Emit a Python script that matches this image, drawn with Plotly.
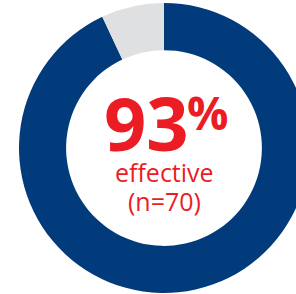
import plotly.graph_objects as go

labels = ["Effective", "Not effective"]
values = [93, 7]
colors = ["#023b7b", "#dfe0e2"]
big_label = "93"
pct_label = "%"
sub_label = "effective"
n_label = "(n=70)"

W, H = 309, 294
L, R, T, B = 19, 0, 3, 1
PW, PH = W - L - R, H - T - B


def px(x):
    return (x - L) / PW


def py(y):
    return 1 - (y - T) / PH


fig = go.Figure(
    go.Pie(
        labels=labels,
        values=values,
        hole=0.675,
        sort=False,
        direction="clockwise",
        rotation=0,
        marker=dict(colors=colors, line=dict(width=0)),
        textinfo="none",
        hoverinfo="label+value",
        showlegend=False,
    )
)

red = "#ec1c24"
fig.add_annotation(x=px(146), y=py(122), xref="paper", yref="paper", text=f"<b>{big_label}</b>",
                   showarrow=False, xanchor="center", yanchor="middle",
                   font=dict(family="Open Sans", size=74, color=red))
fig.add_annotation(x=px(207.5), y=py(112.5), xref="paper", yref="paper", text=f"<b>{pct_label}</b>",
                   showarrow=False, xanchor="center", yanchor="middle",
                   font=dict(family="Open Sans", size=46, color=red))
fig.add_annotation(x=px(164), y=py(171.5), xref="paper", yref="paper", text=sub_label,
                   showarrow=False, xanchor="center", yanchor="middle",
                   font=dict(family="Open Sans", size=25, color=red))
fig.add_annotation(x=px(164), y=py(201), xref="paper", yref="paper", text=n_label,
                   showarrow=False, xanchor="center", yanchor="middle",
                   font=dict(family="Open Sans", size=25, color=red))

fig.update_layout(
    width=W, height=H,
    margin=dict(l=L, r=R, t=T, b=B, pad=0),
    paper_bgcolor="white", plot_bgcolor="white",
)

fig.write_html(
    "out.html",
    config={"displayModeBar": False},
    post_script="document.body.style.margin='0';document.body.style.overflow='hidden';document.documentElement.style.overflow='hidden';",
)
